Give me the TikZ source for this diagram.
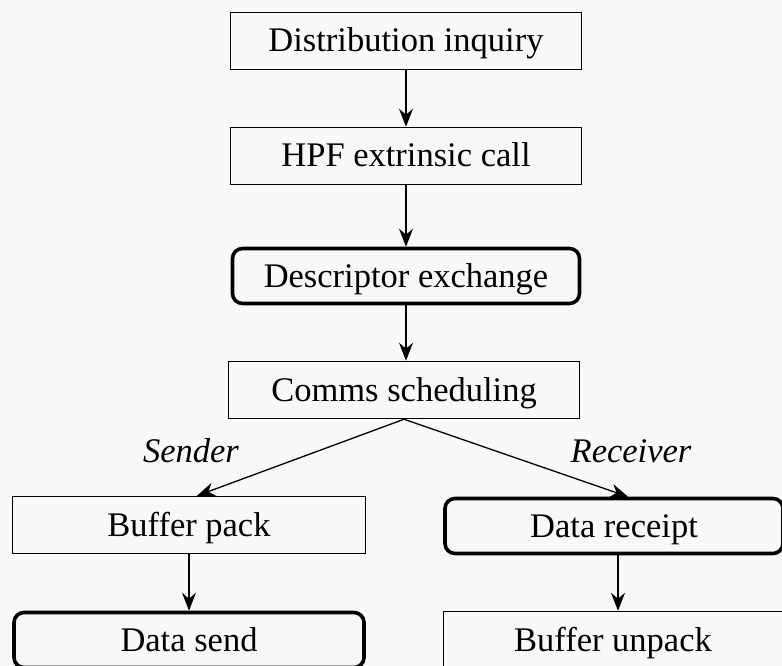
\documentclass[tikz,border=0pt]{standalone}
\usepackage{fontspec}
\setmainfont{Liberation Serif}
\usetikzlibrary{arrows.meta}
\definecolor{paper}{RGB}{248,248,248}
\begin{document}
\begin{tikzpicture}[x=1pt,y=-1pt,
  every node/.style={font=\fontsize{34.5}{40}\selectfont, inner sep=0pt, text height=24pt, text depth=2pt},
  plainbox/.style={draw, line width=1.5pt, minimum width=351pt, minimum height=57pt},
  heavybox/.style={draw, line width=3.6pt, rounded corners=10pt, minimum width=347pt, minimum height=55pt},
  flow/.style={draw, line width=1.3pt, -{Stealth[length=18pt,width=14pt,inset=6pt]}},
  role/.style={font=\fontsize{34.5}{40}\selectfont\itshape, text height=23pt, text depth=7pt}]
  % page and frame
  \fill[paper] (0,0) rectangle (782,666);
  \useasboundingbox (0,0) rectangle (782,666);
  \clip (0,0) rectangle (782,666);

  % main chain
  \node[plainbox] (inq)  at (406,41)  {Distribution inquiry};
  \node[plainbox] (hpf)  at (406,156) {HPF extrinsic call};
  \node[heavybox] (desc) at (406,276) {Descriptor exchange};
  \node[plainbox] (sched) at (404,390) {Comms scheduling};

  % sender branch
  \node[plainbox, minimum width=353pt] (bpack) at (189,525) {Buffer pack};
  \node[heavybox, minimum width=350pt] (dsend) at (189,640) {Data send};

  % receiver branch
  \node[heavybox, minimum width=338pt] (drec) at (614,526) {Data receipt};
  \node[plainbox, minimum width=339pt] (bunp) at (613,640) {Buffer unpack};

  % connectors
  \draw[flow] (inq.south) -- (hpf.north);
  \draw[flow] (hpf.south) -- (desc.north);
  \draw[flow] (desc.south) -- (desc.south |- sched.north);
  \draw[flow] (sched.south) -- ([xshift=8pt]bpack.north);
  \draw[flow] (sched.south) -- ([xshift=14pt]drec.north);
  \draw[flow] (bpack.south) -- (dsend.north);
  \draw[flow] ([xshift=4pt]drec.south) -- ([xshift=5pt]bunp.north);

  % branch labels
  \node[role] (snd) at (191,454) {Sender};
  \node[role] (rcv) at (631,454) {Receiver};
\end{tikzpicture}
\end{document}
